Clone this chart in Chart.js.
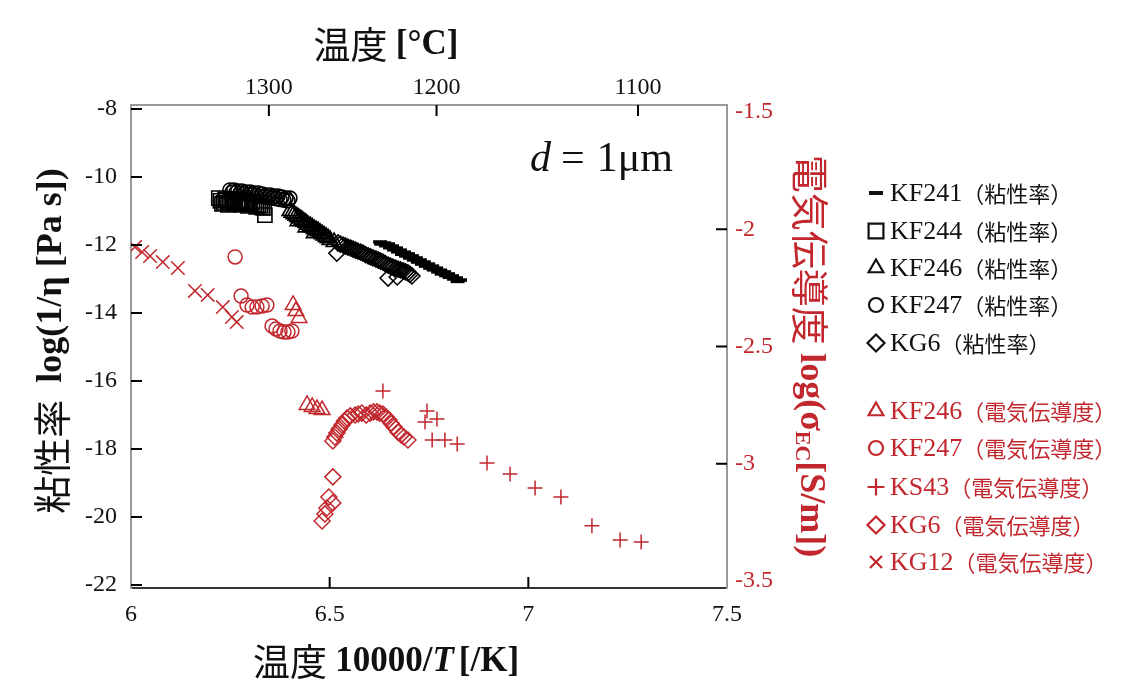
<!DOCTYPE html>
<html>
<head>
<meta charset="utf-8">
<script src="https://cdn.jsdelivr.net/npm/chart.js@4.4.1/dist/chart.umd.min.js"></script>
<style>
  body { margin: 0; background: #fff; }
  #wrap { width: 1129px; height: 697px; }
</style>
</head>
<body>
<div id="wrap"><canvas id="myChart" width="1129" height="697"></canvas></div>
<script>
// viscosity (left axis, log(1/eta))
var kf241X = [6.627,6.630,6.637,6.642,6.647,6.652,6.657,6.662,6.667,6.672,6.677,6.682,6.687,6.692,6.697,6.702,6.707,6.712,6.717,6.722,6.727,6.732,6.737,6.742,6.748,6.753,6.758,6.762,6.768,6.773,6.778,6.782,6.788,6.793,6.798,6.802,6.808,6.813,6.818,6.822,6.828];
var kf241Y = [-11.91,-11.97,-11.94,-12.02,-11.97,-12.08,-12.03,-12.14,-12.09,-12.20,-12.15,-12.27,-12.21,-12.32,-12.26,-12.38,-12.32,-12.44,-12.38,-12.50,-12.44,-12.56,-12.50,-12.62,-12.56,-12.68,-12.62,-12.73,-12.68,-12.79,-12.74,-12.85,-12.79,-12.90,-12.85,-12.95,-12.91,-13.00,-12.97,-13.07,-13.03];

var kf244X = [6.221,6.225,6.229,6.233,6.237,6.240,6.244,6.248,6.252,6.256,6.259,6.263,6.269,6.273,6.277,6.281,6.287,6.290,6.294,6.298,6.305,6.310,6.315,6.320,6.325,6.330,6.335,6.337];
var kf244Y = [-10.62,-10.70,-10.79,-10.76,-10.65,-10.68,-10.82,-10.74,-10.65,-10.72,-10.79,-10.76,-10.68,-10.75,-10.82,-10.78,-10.71,-10.77,-10.85,-10.80,-10.74,-10.80,-10.88,-10.83,-10.85,-10.90,-10.91,-11.12];

var kf246X = [6.400,6.405,6.410,6.415,6.420,6.420,6.425,6.430,6.435,6.440,6.440,6.445,6.451,6.456,6.461,6.461,6.466,6.471,6.476,6.481,6.486,6.491,6.496,6.501,6.511];
var kf246Y = [-11.00,-11.05,-11.09,-11.14,-11.18,-11.30,-11.22,-11.26,-11.31,-11.35,-11.48,-11.40,-11.44,-11.48,-11.53,-11.65,-11.56,-11.59,-11.64,-11.68,-11.72,-11.76,-11.80,-11.85,-11.91];

var kf247X = [6.249,6.254,6.259,6.264,6.269,6.274,6.279,6.284,6.289,6.295,6.300,6.305,6.310,6.315,6.320,6.325,6.330,6.335,6.340,6.345,6.350,6.355,6.360,6.365,6.370,6.375,6.380,6.385,6.390,6.395,6.400];
var kf247Y = [-10.38,-10.45,-10.38,-10.46,-10.41,-10.48,-10.41,-10.50,-10.44,-10.52,-10.44,-10.53,-10.47,-10.55,-10.47,-10.57,-10.50,-10.58,-10.53,-10.60,-10.53,-10.62,-10.56,-10.64,-10.56,-10.66,-10.59,-10.68,-10.62,-10.70,-10.62];

var kg6X = [6.518,6.521,6.527,6.534,6.540,6.546,6.553,6.559,6.565,6.571,6.578,6.584,6.590,6.597,6.603,6.609,6.616,6.622,6.628,6.634,6.640,6.647,6.647,6.653,6.659,6.666,6.670,6.672,6.678,6.685,6.691,6.697,6.702,6.707];
var kg6Y = [-12.24,-11.94,-11.97,-12.00,-12.03,-12.06,-12.09,-12.12,-12.15,-12.18,-12.21,-12.24,-12.28,-12.32,-12.35,-12.38,-12.41,-12.44,-12.47,-12.50,-12.55,-12.59,-12.97,-12.62,-12.65,-12.68,-12.94,-12.71,-12.73,-12.76,-12.79,-12.82,-12.86,-12.91];

// electrical conductivity (right axis, log(sigma_EC))
var kf246ecX = [6.408,6.415,6.423,6.443,6.456,6.468,6.481];
var kf246ecY = [-2.323,-2.349,-2.378,-2.749,-2.758,-2.767,-2.771];

var kf247ecX = [6.262,6.277,6.292,6.305,6.317,6.330,6.342,6.355,6.365,6.375,6.385,6.395,6.405];
var kf247ecY = [-2.118,-2.285,-2.323,-2.332,-2.332,-2.327,-2.323,-2.413,-2.425,-2.434,-2.438,-2.438,-2.434];

var ks43ecX = [6.634,6.745,6.770,6.740,6.758,6.790,6.821,6.896,6.954,7.017,7.082,7.160,7.231,7.284];
var ks43ecY = [-2.690,-2.775,-2.809,-2.822,-2.899,-2.899,-2.916,-2.997,-3.044,-3.103,-3.142,-3.265,-3.325,-3.334];

var kg6ecX = [6.508,6.513,6.518,6.524,6.531,6.537,6.544,6.552,6.564,6.572,6.581,6.592,6.602,6.610,6.619,6.626,6.634,6.641,6.649,6.655,6.662,6.672,6.680,6.687,6.697,
              6.508,6.498,6.508,6.493,6.488,6.481];
var kg6ecY = [-2.903,-2.886,-2.869,-2.852,-2.835,-2.818,-2.805,-2.796,-2.792,-2.788,-2.784,-2.792,-2.784,-2.779,-2.779,-2.784,-2.788,-2.800,-2.813,-2.828,-2.843,-2.865,-2.877,-2.886,-2.899,
              -3.056,-3.142,-3.167,-3.189,-3.214,-3.244];

var kg12ecX = [6.010,6.028,6.048,6.080,6.118,6.161,6.193,6.231,6.254,6.266];
var kg12ecY = [-2.076,-2.097,-2.114,-2.140,-2.165,-2.263,-2.280,-2.332,-2.374,-2.396];

// ticks
var xTicks = [6, 6.5, 7, 7.5];
var xTickLabels = ['6', '6.5', '7', '7.5'];
var yTicks = [-22, -20, -18, -16, -14, -12, -10, -8];
var yTickLabels = ['-22', '-20', '-18', '-16', '-14', '-12', '-10', '-8'];
var y2Ticks = [-3.5, -3, -2.5, -2, -1.5];
var y2TickLabels = ['-3.5', '-3', '-2.5', '-2', '-1.5'];
var topTickPos = [6.347, 6.769, 7.276];
var topTickLabels = ['1300', '1200', '1100'];

var viscNames = ['KF241', 'KF244', 'KF246', 'KF247', 'KG6'];
var ecNames = ['KF246', 'KF247', 'KS43', 'KG6', 'KG12'];
var viscTag = '（粘性率）';
var ecTag = '（電気伝導度）';

var RED = '#c1272d';
var SERIF = '"Liberation Serif", "Times New Roman", serif';
var CJK = '"Noto Sans CJK JP", sans-serif';

function pts(xs, ys) {
  var out = [];
  for (let i = 0; i < xs.length; i++) {
    out.push({x: xs[i], y: ys[i]});
  }
  return out;
}

function ds(label, xs, ys, axis, color, style, r, lw) {
  return {
    label: label,
    data: pts(xs, ys),
    yAxisID: axis,
    showLine: false,
    pointStyle: style,
    pointRadius: r,
    pointBorderWidth: lw,
    borderColor: color,
    backgroundColor: 'rgba(0,0,0,0)'
  };
}

var blackSets = [
  ds('KF241', kf241X, kf241Y, 'y', '#000', 'line', 7, 3.5),
  ds('KF244', kf244X, kf244Y, 'y', '#000', 'rect', 10, 1.6),
  ds('KF246', kf246X, kf246Y, 'y', '#000', 'triangle', 9, 1.6),
  ds('KF247', kf247X, kf247Y, 'y', '#000', 'circle', 7, 1.6),
  ds('KG6', kg6X, kg6Y, 'y', '#000', 'rectRot', 8, 1.6)
];
var redSets = [
  ds('KF246 EC', kf246ecX, kf246ecY, 'y2', RED, 'triangle', 9, 1.5),
  ds('KF247 EC', kf247ecX, kf247ecY, 'y2', RED, 'circle', 7, 1.5),
  ds('KS43 EC', ks43ecX, ks43ecY, 'y2', RED, 'cross', 7.5, 1.5),
  ds('KG6 EC', kg6ecX, kg6ecY, 'y2', RED, 'rectRot', 8, 1.5),
  ds('KG12 EC', kg12ecX, kg12ecY, 'y2', RED, 'crossRot', 9.5, 1.5)
];

// draw text made of pieces with different fonts
function richWidth(ctx, parts) {
  var w = 0;
  parts.forEach(function (p) { ctx.font = p.font; w += ctx.measureText(p.t).width + (p.gap || 0); });
  return w;
}
function drawRich(ctx, parts, x, y, align) {
  var w = richWidth(ctx, parts);
  var cx = align === 'left' ? x : x - w / 2;
  ctx.textBaseline = 'middle';
  ctx.textAlign = 'left';
  parts.forEach(function (p) {
    ctx.font = p.font;
    ctx.fillStyle = p.color;
    ctx.fillText(p.t, cx, y + (p.dy || 0));
    cx += ctx.measureText(p.t).width + (p.gap || 0);
  });
}

var innerTicks = {
  id: 'innerTicks',
  afterDraw: function (chart) {
    var ctx = chart.ctx, a = chart.chartArea, s = chart.scales;
    ctx.save();
    ctx.strokeStyle = '#000';
    ctx.lineWidth = 2;
    ctx.beginPath();
    yTicks.forEach(function (v) {
      var p = s.y.getPixelForValue(v);
      ctx.moveTo(a.left, p); ctx.lineTo(a.left + 11, p);
    });
    y2Ticks.slice(1, -1).forEach(function (v) {
      var p = s.y2.getPixelForValue(v);
      ctx.moveTo(a.right, p); ctx.lineTo(a.right - 11, p);
    });
    topTickPos.forEach(function (v) {
      var p = s.x2.getPixelForValue(v);
      ctx.moveTo(p, a.top); ctx.lineTo(p, a.top + 11);
    });
    xTicks.slice(1, -1).forEach(function (v) {
      var p = s.x.getPixelForValue(v);
      ctx.moveTo(p, a.bottom); ctx.lineTo(p, a.bottom - 11);
    });
    ctx.stroke();
    ctx.restore();
  }
};

var titles = {
  id: 'titles',
  afterDraw: function (chart) {
    var ctx = chart.ctx;
    ctx.save();
    // top title
    drawRich(ctx, [
      {t: '温度 ', font: '37px ' + CJK, color: '#111'},
      {t: '[°C]', font: 'bold 35px ' + SERIF, color: '#111'}
    ], 386, 45);
    // bottom title
    drawRich(ctx, [
      {t: '温度 ', font: '37px ' + CJK, color: '#111'},
      {t: '10000/', font: 'bold 35px ' + SERIF, color: '#111'},
      {t: 'T', font: 'italic bold 35px ' + SERIF, color: '#111', gap: 5},
      {t: '[/K]', font: 'bold 35px ' + SERIF, color: '#111'}
    ], 386, 662);
    // left title
    ctx.save();
    ctx.translate(52, 341);
    ctx.rotate(-Math.PI / 2);
    drawRich(ctx, [
      {t: '粘性率  ', font: '38px ' + CJK, color: '#111'},
      {t: 'log(1/η [Pa s])', font: 'bold 36px ' + SERIF, color: '#111'}
    ], 0, 0);
    ctx.restore();
    // right title
    ctx.save();
    ctx.translate(810, 356);
    ctx.rotate(Math.PI / 2);
    drawRich(ctx, [
      {t: '電気伝導度 ', font: '38px ' + CJK, color: RED},
      {t: 'log(σ', font: 'bold 36px ' + SERIF, color: RED},
      {t: 'EC', font: 'bold 22px ' + SERIF, color: RED, dy: 8},
      {t: '[S/m])', font: 'bold 36px ' + SERIF, color: RED}
    ], 0, 0);
    ctx.restore();
    // annotation
    drawRich(ctx, [
      {t: 'd', font: 'italic 42px ' + SERIF, color: '#111', gap: 10},
      {t: '=', font: '42px ' + SERIF, color: '#111', gap: 12},
      {t: '1μm', font: '42px ' + SERIF, color: '#111'}
    ], 530, 160, 'left');

    // legend
    var rowsV = [193, 231, 268, 305, 343];
    var rowsE = [411, 448, 487, 525, 562];
    var allSets = blackSets.concat(redSets);
    var names = viscNames.concat(ecNames);
    for (var i = 0; i < allSets.length; i++) {
      var d = allSets[i];
      var y = i < 5 ? rowsV[i] : rowsE[i - 5];
      var col = i < 5 ? '#111' : RED;
      ctx.strokeStyle = col;
      ctx.fillStyle = 'rgba(0,0,0,0)';
      var st = d.pointStyle;
      ctx.lineWidth = st === 'line' ? 4 : 2.2;
      var r = st === 'line' ? 7 : (st === 'circle' ? 7 : (st === 'rect' ? 10.5 : 8.5));
      Chart.helpers.drawPoint(ctx, {pointStyle: st, radius: r, borderWidth: ctx.lineWidth, rotation: 0}, 876, y);
      drawRich(ctx, [
        {t: names[i], font: '26px ' + SERIF, color: col},
        {t: i < 5 ? viscTag : ecTag, font: '22px ' + CJK, color: col}
      ], 890, y + 1, 'left');
    }
    ctx.restore();
  }
};

function fixed(vals) {
  return function (scale) {
    scale.ticks = vals.map(function (v) { return {value: v}; });
  };
}
function labelFrom(vals, labels) {
  return function (value) {
    var i = vals.indexOf(value);
    return i >= 0 ? labels[i] : '';
  };
}

const ctx = document.getElementById('myChart');

new Chart(ctx, {
  type: 'scatter',
  data: { datasets: blackSets.concat(redSets) },
  options: {
    responsive: false,
    animation: false,
    events: [],
    layout: { padding: 0 },
    plugins: { legend: { display: false }, tooltip: { enabled: false } },
    scales: {
      x: {
        type: 'linear', position: 'bottom', min: 6, max: 7.5,
        afterBuildTicks: fixed(xTicks),
        afterFit: function (s) { s.height = 109; },
        grid: { display: false, drawTicks: false },
        border: { display: true, color: '#333', width: 2 },
        ticks: { callback: labelFrom(xTicks, xTickLabels), color: '#111', padding: 12, maxRotation: 0,
                 font: { family: SERIF, size: 24 } }
      },
      x2: {
        type: 'linear', position: 'top', min: 6, max: 7.5,
        afterBuildTicks: fixed(topTickPos),
        afterFit: function (s) { s.height = 105; },
        grid: { display: false, drawTicks: false },
        border: { display: true, color: '#999', width: 2 },
        ticks: { callback: labelFrom(topTickPos, topTickLabels), color: '#111', padding: 3, maxRotation: 0,
                 font: { family: SERIF, size: 24 } }
      },
      y: {
        type: 'linear', position: 'left', min: -22.09, max: -7.88,
        afterBuildTicks: fixed(yTicks),
        afterFit: function (s) { s.width = 131; },
        grid: { display: false, drawTicks: false },
        border: { display: true, color: '#999', width: 2 },
        ticks: { callback: labelFrom(yTicks, yTickLabels), color: '#111', padding: 14,
                 font: { family: SERIF, size: 24 } }
      },
      y2: {
        type: 'linear', position: 'right', min: -3.530, max: -1.470,
        afterBuildTicks: fixed(y2Ticks),
        afterFit: function (s) { s.width = 402; },
        grid: { display: false, drawTicks: false },
        border: { display: true, color: '#999', width: 2 },
        ticks: { callback: labelFrom(y2Ticks, y2TickLabels), color: RED, padding: 8,
                 font: { family: SERIF, size: 24 } }
      }
    }
  },
  plugins: [innerTicks, titles]
});
</script>
</body>
</html>
